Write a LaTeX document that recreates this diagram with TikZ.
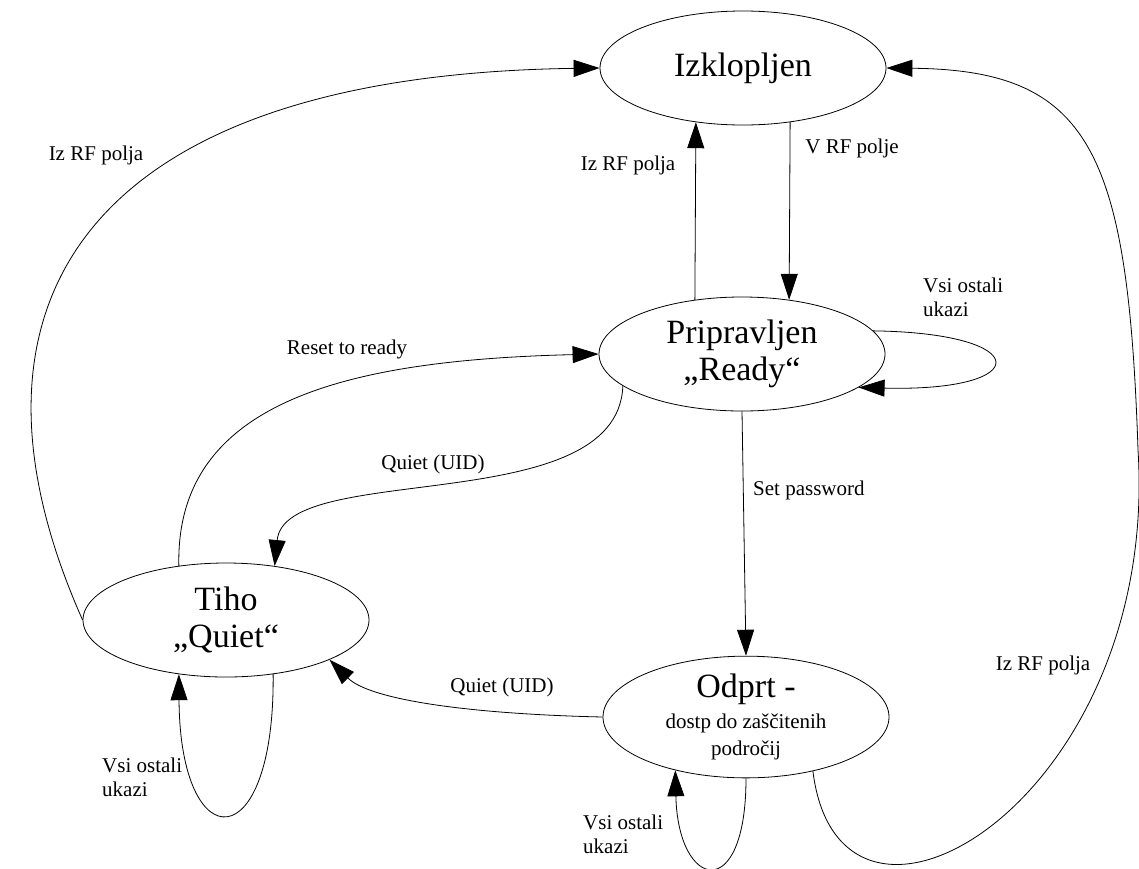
\documentclass[tikz,border=0pt]{standalone}
\usepackage{fontspec}
\setmainfont{Liberation Serif}
\usetikzlibrary{shapes.geometric,arrows.meta}
\begin{document}
\begin{tikzpicture}[x=1pt,y=-1pt,
  state/.style={draw, ellipse, line width=0.8pt, minimum width=286pt, minimum height=114pt,
    inner sep=0pt, align=center, font=\fontsize{34}{37}\selectfont},
  lbl/.style={font=\fontsize{21}{24}\selectfont, inner sep=0pt, align=left},
  conn/.style={line width=0.8pt, -{Triangle[length=26pt,width=17pt]}},
]
\useasboundingbox (0,0) rectangle (1139,868);

% states
\node[state] (izk)  at (743,68)  {Izklopljen};
\node[state] (rdy)  at (742,354) {Pripravljen\\„Ready“};
\node[state] (tiho) at (226,620) {Tiho\\„Quiet“};
\node[state] (odp)  at (746,717) {Odprt -\\[-6pt]{\fontsize{21}{23}\selectfont dostp do zaščitenih}\\[-10pt]{\fontsize{21}{23}\selectfont področij}};

% transition labels
\node[lbl] (lIzTop)   at (96,155)  {Iz RF polja};
\node[lbl] (lIzMid)   at (628,165) {Iz RF polja};
\node[lbl] (lVRF)     at (852,148) {V RF polje};
\node[lbl, anchor=north west] (lRdyLoop) at (923,278) {Vsi ostali\\ukazi};
\node[lbl] (lReset)   at (347,349) {Reset to ready};
\node[lbl] (lQuiet1)  at (433,464) {Quiet (UID)};
\node[lbl, anchor=west] (lSetPw) at (753,490) {Set password};
\node[lbl] (lIzRight) at (1043,665) {Iz RF polja};
\node[lbl] (lQuiet2)  at (502,687) {Quiet (UID)};
\node[lbl, anchor=north west] (lTihoLoop) at (102,758) {Vsi ostali\\ukazi};
\node[lbl, anchor=north west] (lOdpLoop)  at (583,815) {Vsi ostali\\ukazi};

% transitions
\draw[conn] (izk.-49) -- (rdy.49);
\draw[conn] (rdy.131) -- (izk.-131);
\draw[conn] (rdy.10) .. controls (1035,333) and (1035,392) .. (rdy.-16);
\draw[conn] (rdy.-165) .. controls (618,520) and (285,460) .. (tiho.48);
\draw[conn] (tiho.131) .. controls (175,400) and (350,360) .. (rdy.west);
\draw[conn] (rdy.south) -- (odp.north);
\draw[conn] (odp.west) .. controls (470,714) and (370,700) .. (tiho.-21);
\draw[conn] (tiho.-49) .. controls (275,860) and (180,860) .. (tiho.-131);
\draw[conn] (odp.south) .. controls (746,905) and (678,890) .. (odp.-143);
\draw[conn] (tiho.west) .. controls (-60,300) and (90,75) .. (izk.west);
\draw[conn] (odp.-39) .. controls (840,990) and (1160,800) .. (1138,450)
                      .. controls (1128,150) and (1090,70) .. (izk.east);
\end{tikzpicture}
\end{document}
